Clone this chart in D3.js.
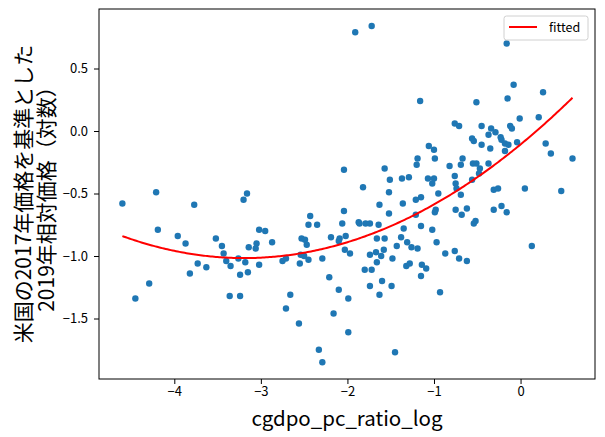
<!DOCTYPE html>
<html>
<head>
<meta charset="utf-8">
<script src="https://cdn.jsdelivr.net/npm/d3@7"></script>
<style>
  body { margin: 0; background: #fff; }
  text { font-family: "Noto Sans CJK JP", "Noto Sans", sans-serif; }
</style>
</head>
<body>
<div id="main"></div>
<script>
// values
const pointsX = [
  -4.60, -4.45, -4.29, -4.21, -4.19, -3.96, -3.87, -3.77, -3.82, -3.73,
  -3.63, -3.52, -3.45, -3.43, -3.40, -3.35, -3.26, -3.18, -3.14, -3.05,
  -3.06, -3.02, -2.95, -2.87, -3.02, -3.24, -3.15, -3.36, -3.24, -3.20,
  -3.16, -2.75, -2.71, -2.55, -2.54, -2.50, -2.45, -2.29, -2.53, -2.49,
  -2.47, -2.43, -2.45, -2.35, -2.19, -2.09, -2.10, -2.02, -2.06, -2.04,
  -2.03, -1.97, -1.87, -1.86, -1.79, -1.74, -1.64, -1.63, -1.52, -1.66,
  -1.57, -1.43, -1.67, -1.58, -1.74, -1.61, -1.66, -1.48, -1.80, -1.72,
  -2.21, -1.60, -1.74, -1.49, -2.10, -2.66, -1.63, -1.99, -2.71, -2.16,
  -2.56, -1.99, -2.33, -1.45, -2.29, -1.91, -1.72, -1.16, -1.06, -1.19,
  -1.20, -2.04, -1.57, -1.51, -1.82, -1.52, -1.37, -1.29, -1.07, -1.15,
  -1.21, -1.36, -1.21, -1.15, -1.35, -1.38, -1.31, -1.26, -1.19, -1.32,
  -1.28, -1.14, -1.09, -1.15, -1.00, -0.99, -1.00, -1.02, -0.95, -0.98,
  -0.99, -1.02, -0.97, -0.87, -0.76, -0.71, -0.62, -0.93, -0.76, -0.71,
  -0.82, -0.76, -0.75, -0.74, -0.69, -0.67, -0.69, -0.75, -0.62, -0.68,
  -0.52, -0.54, -0.56, -0.54, -0.45, -0.55, -0.51, -0.47, -0.48, -0.56,
  -0.51, -0.45, -0.34, -0.37, -0.29, -0.23, -0.22, -0.18, -0.14, -0.18,
  -0.04, -0.35, -0.37, -0.31, -0.26, -0.16, -0.08, -0.15, -0.01, 0.21,
  0.26, -0.12, -0.10, 0.29, 0.35, 0.60, 0.05, 0.47, -0.31, -0.22,
  -0.16, 0.13
];
const pointsY = [
  -0.58, -1.34, -1.22, -0.49, -0.79, -0.84, -0.90, -0.59, -1.14, -1.06,
  -1.09, -0.86, -0.92, -0.98, -1.04, -1.08, -1.02, -1.05, -0.93, -0.90,
  -0.94, -0.79, -0.80, -0.89, -1.07, -1.15, -1.13, -1.32, -1.32, -0.55,
  -0.50, -1.04, -1.02, -1.06, -0.99, -1.00, -1.03, -1.02, -0.86, -0.87,
  -0.91, -0.68, -0.75, -0.75, -0.85, -0.86, -0.88, -0.84, -0.74, -0.64,
  -0.95, -0.98, -0.73, -0.74, -0.74, -0.74, -0.75, -0.59, -0.66, -0.86,
  -0.86, -0.92, -0.97, -0.95, -0.99, -1.00, -1.05, -1.02, -1.11, -1.11,
  -1.17, -1.20, -1.24, -1.24, -1.27, -1.31, -1.31, -1.34, -1.42, -1.46,
  -1.54, -1.61, -1.75, -1.77, -1.85, 0.79, 0.84, 0.24, -0.12, -0.22,
  -0.27, -0.31, -0.30, -0.39, -0.45, -0.49, -0.38, -0.37, -0.38, -0.53,
  -0.55, -0.58, -0.67, -0.76, -0.78, -0.85, -0.89, -0.93, -0.94, -1.08,
  -1.06, -1.07, -1.10, -1.16, -0.15, -0.22, -0.38, -0.42, -0.50, -0.63,
  -0.65, -0.79, -0.89, -0.98, -0.96, -1.02, -1.04, -1.29, 0.06, 0.04,
  -0.28, -0.36, -0.42, -0.46, -0.27, -0.22, -0.51, -0.63, -0.62, -0.67,
  -0.72, -0.74, -0.06, -0.08, -0.11, -0.26, -0.26, -0.30, -0.34, -0.39,
  0.23, 0.04, 0.02, -0.03, -0.01, -0.05, -0.07, -0.10, -0.11, -0.16,
  -0.09, -0.14, -0.26, -0.47, -0.46, 0.70, 0.37, 0.26, 0.10, 0.11,
  0.31, 0.04, 0.02, -0.10, -0.18, -0.22, -0.46, -0.48, -0.63, -0.60,
  -0.65, -0.92
];
// quadratic fit: c + b*x + a*x^2
const fitCoef = [-0.1076, 0.5692, 0.0891];
const xTicks = [-4, -3, -2, -1, 0];
const yTicks = [-1.5, -1.0, -0.5, 0.0, 0.5];
const xLabel = 'cgdpo_pc_ratio_log';
const yLabelLines = ['米国の2017年価格を基準とした', '2019年相対価格（対数）'];
const legendLabel = 'fitted';

const width = 605, height = 437;
const margin = {left: 99, right: 10, top: 9, bottom: 58};

let svg = d3.select('#main').append('svg')
  .attr('width', width)
  .attr('height', height);

let x = d3.scaleLinear().domain([-4.87, 0.86]).range([margin.left, width - margin.right]);
let y = d3.scaleLinear().domain([-1.984, 0.976]).range([height - margin.bottom, margin.top]);

let minus = v => String(v).replace('-', '\u2212');

// points
let pts = pointsX.map((v, i) => ({x: v, y: pointsY[i]}));
svg.append('g')
  .selectAll('circle')
  .data(pts)
  .join('circle')
  .attr('cx', d => x(d.x))
  .attr('cy', d => y(d.y))
  .attr('r', 3.2)
  .attr('fill', '#1f77b4');

// fitted curve
let fitFn = v => fitCoef[0] + fitCoef[1] * v + fitCoef[2] * v * v;
let xs = d3.range(d3.min(pointsX), d3.max(pointsX) + 0.001, 0.02);
svg.append('path')
  .datum(xs)
  .attr('fill', 'none')
  .attr('stroke', 'red')
  .attr('stroke-width', 2)
  .attr('d', d3.line().x(d => x(d)).y(d => y(fitFn(d))));

// axes
let xAxis = svg.append('g')
  .attr('transform', `translate(0,${height - margin.bottom})`)
  .call(d3.axisBottom(x).tickValues(xTicks).tickSize(5).tickPadding(3).tickFormat(d => minus(d)));
let yAxis = svg.append('g')
  .attr('transform', `translate(${margin.left},0)`)
  .call(d3.axisLeft(y).tickValues(yTicks).tickSize(5).tickPadding(6).tickFormat(d => minus(d.toFixed(1))));

[xAxis, yAxis].forEach(a => {
  a.select('.domain').remove();
  a.selectAll('line').attr('stroke', '#000').attr('stroke-width', 1);
  a.selectAll('text').attr('font-size', 13).attr('fill', '#000')
    .style('font-family', '"Noto Sans CJK JP", sans-serif');
});

// frame
svg.append('rect')
  .attr('x', margin.left)
  .attr('y', margin.top)
  .attr('width', width - margin.left - margin.right)
  .attr('height', height - margin.top - margin.bottom)
  .attr('fill', 'none')
  .attr('stroke', '#000')
  .attr('stroke-width', 1);

// labels
svg.append('text')
  .attr('x', (margin.left + width - margin.right) / 2)
  .attr('y', 426)
  .attr('text-anchor', 'middle')
  .attr('font-size', 20.5)
  .text(xLabel);

let cy = (margin.top + height - margin.bottom) / 2;
yLabelLines.forEach((t, i) => {
  svg.append('text')
    .attr('transform', `translate(${31 + i * 23},${cy}) rotate(-90)`)
    .attr('text-anchor', 'middle')
    .attr('font-size', 21)
    .text(t);
});

// legend
let lg = svg.append('g');
lg.append('rect')
  .attr('x', 504).attr('y', 16).attr('width', 84).attr('height', 24)
  .attr('rx', 2.5)
  .attr('fill', '#fff').attr('fill-opacity', 0.8)
  .attr('stroke', '#d0d0d0');
lg.append('line')
  .attr('x1', 509).attr('x2', 537).attr('y1', 27).attr('y2', 27)
  .attr('stroke', 'red').attr('stroke-width', 2);
lg.append('text')
  .attr('x', 549).attr('y', 32)
  .attr('font-size', 12.5)
  .text(legendLabel);
</script>
</body>
</html>
